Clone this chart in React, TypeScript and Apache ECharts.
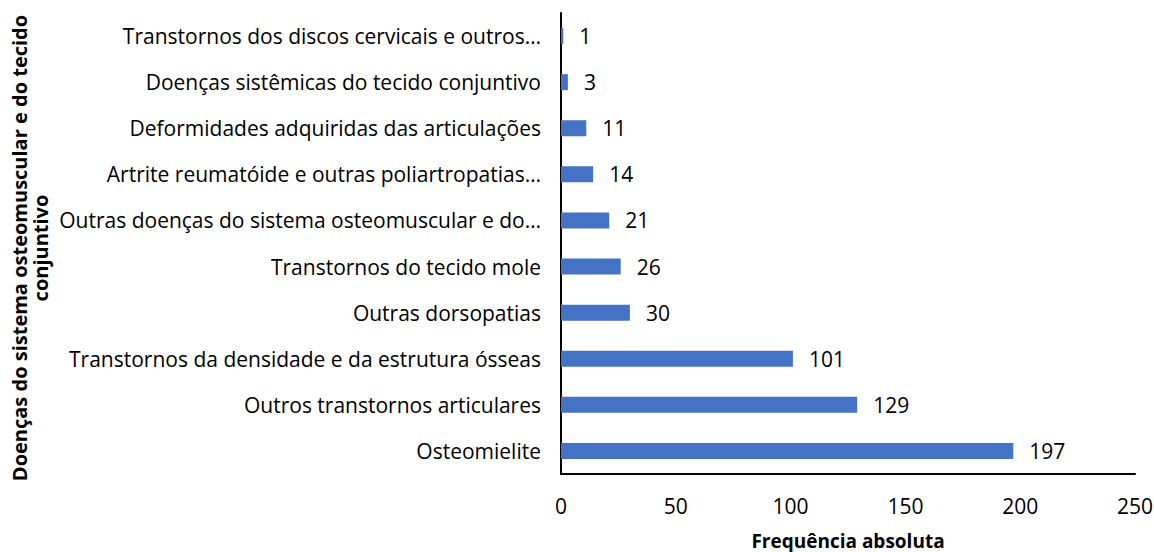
import React, { useEffect, useRef } from "react";
import * as echarts from "echarts";

const categories = [
  "Osteomielite",
  "Outros transtornos articulares",
  "Transtornos da densidade e da estrutura ósseas",
  "Outras dorsopatias",
  "Transtornos do tecido mole",
  "Outras doenças do sistema osteomuscular e do…",
  "Artrite reumatóide e outras poliartropatias…",
  "Deformidades adquiridas das articulações",
  "Doenças sistêmicas do tecido conjuntivo",
  "Transtornos dos discos cervicais e outros…",
];
const values = [197, 129, 101, 30, 26, 21, 14, 11, 3, 1];
const xTicks = { min: 0, max: 250, interval: 50 };
const xTitle = "Frequência absoluta";
const yTitle = "Doenças do sistema osteomuscular e do tecido\nconjuntivo";

const FONT = "'Open Sans', sans-serif";

export default function App() {
  const ref = useRef<HTMLDivElement>(null);
  useEffect(() => {
    if (!ref.current) return;
    const chart = echarts.init(ref.current, null, { renderer: "svg" });
    chart.setOption({
      animation: false,
      backgroundColor: "#ffffff",
      textStyle: { fontFamily: FONT },
      grid: {
        left: 561,
        right: 19,
        top: 13,
        bottom: 78,
        containLabel: false,
        outerBoundsMode: "none",
      },
      xAxis: {
        type: "value",
        min: xTicks.min,
        max: xTicks.max,
        interval: xTicks.interval,
        name: xTitle,
        nameLocation: "middle",
        nameGap: 57,
        nameTextStyle: { fontSize: 19, fontWeight: "bold", color: "#000", fontFamily: FONT },
        axisLine: { show: true, lineStyle: { color: "#000", width: 2 } },
        axisTick: { show: false },
        splitLine: { show: false },
        axisLabel: { fontSize: 21, color: "#000", margin: 21, fontFamily: FONT },
      },
      yAxis: {
        type: "category",
        data: categories,
        axisLine: { show: true, lineStyle: { color: "#000", width: 2 } },
        axisTick: { show: false },
        splitLine: { show: false },
        axisLabel: { fontSize: 21, color: "#000", margin: 20, fontFamily: FONT },
      },
      series: [
        {
          type: "bar",
          data: values,
          barWidth: 16,
          itemStyle: { color: "#4472C4" },
          label: {
            show: true,
            position: "right",
            distance: 16,
            fontSize: 21,
            color: "#000",
            fontFamily: FONT,
          },
        },
      ],
      graphic: [
        {
          type: "text",
          x: 30,
          y: 248,
          rotation: Math.PI / 2,
          style: {
            text: yTitle,
            fontSize: 20,
            fontWeight: "bold",
            fill: "#000",
            align: "center",
            verticalAlign: "middle",
            lineHeight: 21,
            fontFamily: FONT,
          },
        },
      ],
    });
    return () => chart.dispose();
  }, []);
  return (
    <div
      ref={ref}
      style={{ position: "fixed", left: 0, top: 0, width: 1154, height: 552, background: "#fff" }}
    />
  );
}
